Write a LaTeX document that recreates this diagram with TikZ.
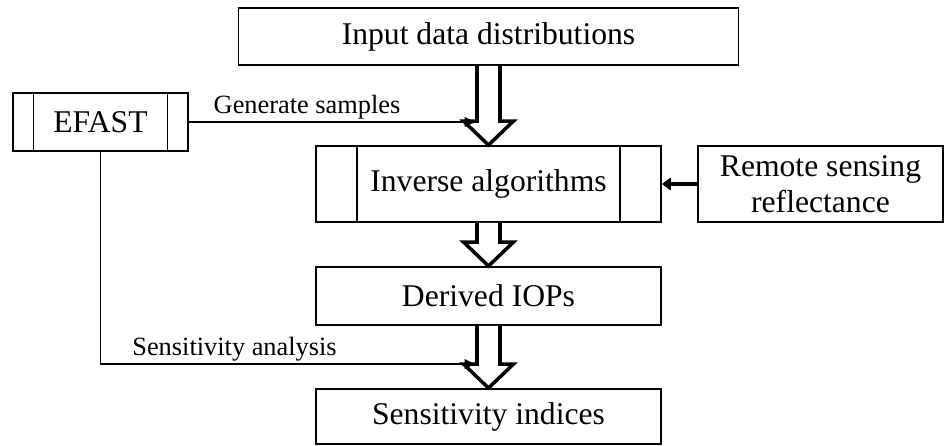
\documentclass[tikz,border=0pt]{standalone}
\usepackage{fontspec}
\setmainfont{Liberation Serif}
\usetikzlibrary{calc,arrows.meta}

\tikzset{
  box/.style={draw,line width=1.1pt,inner sep=2pt,font=\fontsize{18}{20.5}\selectfont},
  hollow/.style={draw,line width=2pt,fill=white,line join=miter},
  thinarrow/.style={line width=1.1pt,-{Latex[length=7pt,width=6pt]}},
  thickarrow/.style={line width=2pt,-{Triangle[length=5pt,width=7pt]}},
  lbl/.style={font=\fontsize{15}{17}\selectfont,inner sep=1pt}
}
% hollow block arrow from the bottom of #1 to the top of #2
\newcommand{\flowarrow}[2]{%
  \draw[hollow] ($(#1.south -| #2.north)+(-0.23,0)$) -- ($(#2.north)+(-0.23,0.48)$)
    -- ($(#2.north)+(-0.5,0.48)$) -- (#2.north) -- ($(#2.north)+(0.5,0.48)$)
    -- ($(#2.north)+(0.23,0.48)$) -- ($(#1.south -| #2.north)+(0.23,0)$);}
% side bars of a process box
\newcommand{\sidebars}[2]{%
  \draw[line width=1.1pt] ([xshift=#2]#1.north west) -- ([xshift=#2]#1.south west);
  \draw[line width=1.1pt] ([xshift=-#2]#1.north east) -- ([xshift=-#2]#1.south east);}

\begin{document}
\begin{tikzpicture}
\useasboundingbox (0,0) rectangle (18.9,8.92);
\node[box,minimum width=10cm,minimum height=1.14cm] (input) at (9.77,8.19) {Input data distributions};
\node[box,minimum width=3.5cm,minimum height=1.16cm] (efast) at (2.01,6.48) {EFAST};
\node[box,minimum width=6.9cm,minimum height=1.52cm] (inv) at (9.77,5.24) {Inverse algorithms};
\node[box,minimum width=4.9cm,minimum height=1.52cm,align=center] (rs) at (16.41,5.24) {Remote sensing\\reflectance};
\node[box,minimum width=6.9cm,minimum height=1.16cm] (iop) at (9.77,3.0) {Derived IOPs};
\node[box,minimum width=6.9cm,minimum height=1.1cm] (sens) at (9.77,0.59) {Sensitivity indices};
\sidebars{efast}{0.43cm}
\sidebars{inv}{0.84cm}
\flowarrow{input}{inv}
\flowarrow{inv}{iop}
\flowarrow{iop}{sens}
\coordinate (gen) at ($(inv.north)+(-0.23,0.48)$);
\coordinate (ana) at ($(sens.north)+(-0.23,0.48)$);
\draw[thinarrow] (efast.east) -- (efast.east -| gen) node[lbl,above,pos=0.41] {Generate samples};
\draw[thinarrow] (efast.south) |- (ana) node[lbl,above,pos=0.678] {Sensitivity analysis};
\draw[thickarrow] (rs.west) -- (inv.east);
\end{tikzpicture}
\end{document}
